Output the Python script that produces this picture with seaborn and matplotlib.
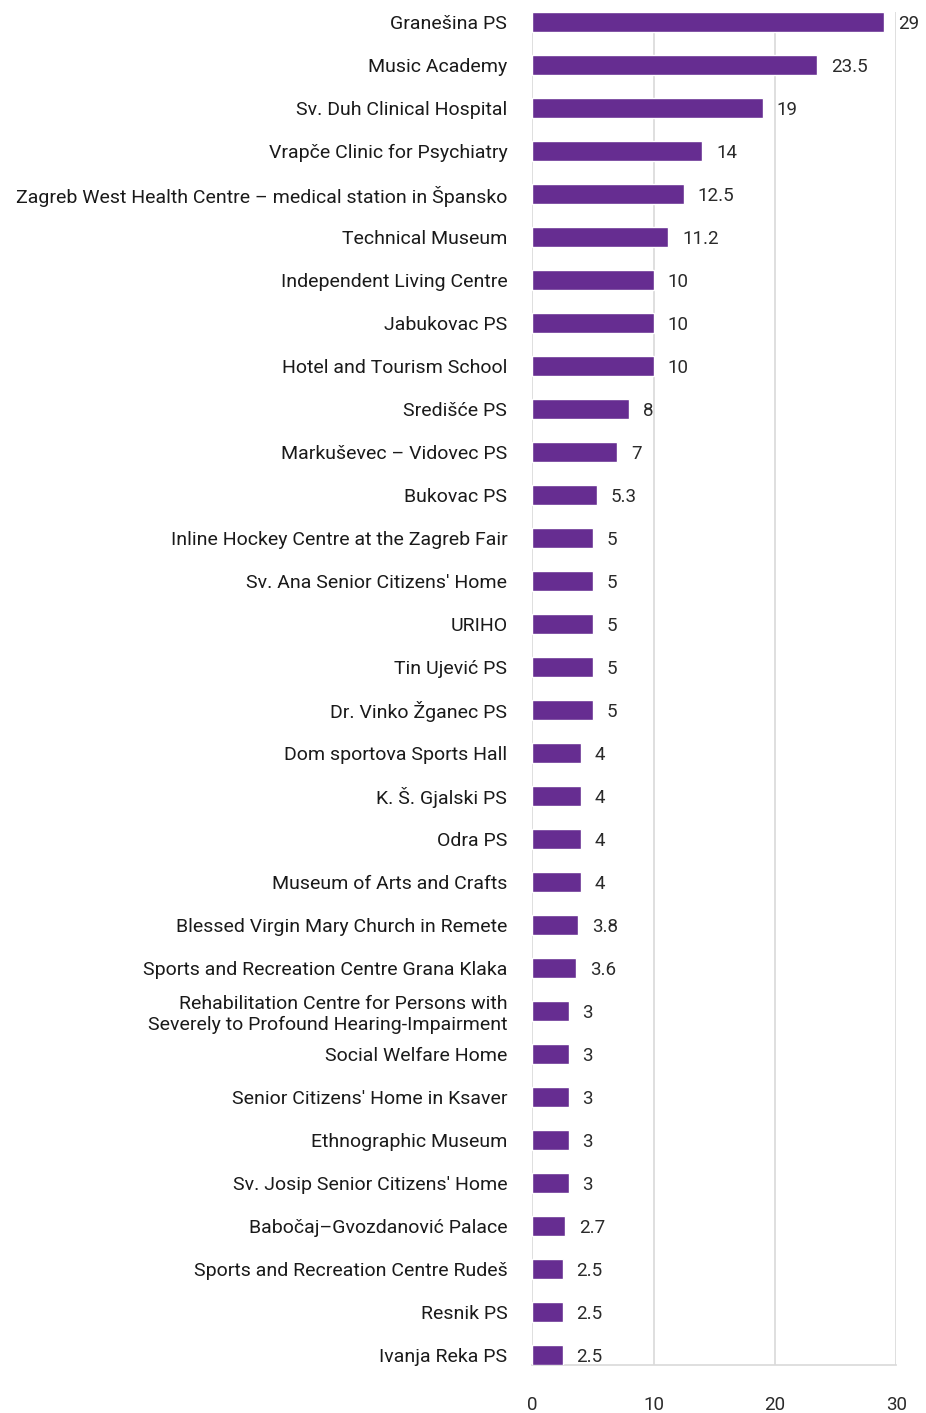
import pandas as pd
import seaborn as sns
import matplotlib.pyplot as plt

names = [
    "Granešina PS", "Music Academy", "Sv. Duh Clinical Hospital",
    "Vrapče Clinic for Psychiatry",
    "Zagreb West Health Centre – medical station in Špansko",
    "Technical Museum", "Independent Living Centre", "Jabukovac PS",
    "Hotel and Tourism School", "Središće PS", "Markuševec – Vidovec PS",
    "Bukovac PS", "Inline Hockey Centre at the Zagreb Fair",
    "Sv. Ana Senior Citizens' Home", "URIHO", "Tin Ujević PS",
    "Dr. Vinko Žganec PS", "Dom sportova Sports Hall", "K. Š. Gjalski PS",
    "Odra PS", "Museum of Arts and Crafts",
    "Blessed Virgin Mary Church in Remete",
    "Sports and Recreation Centre Grana Klaka",
    "Rehabilitation Centre for Persons with\nSeverely to Profound Hearing-Impairment",
    "Social Welfare Home", "Senior Citizens' Home in Ksaver",
    "Ethnographic Museum", "Sv. Josip Senior Citizens' Home",
    "Babočaj–Gvozdanović Palace", "Sports and Recreation Centre Rudeš",
    "Resnik PS", "Ivanja Reka PS",
]
values = [29, 23.5, 19, 14, 12.5, 11.2, 10, 10, 10, 8, 7, 5.3, 5, 5, 5, 5, 5,
          4, 4, 4, 4, 3.8, 3.6, 3, 3, 3, 3, 3, 2.7, 2.5, 2.5, 2.5]
value_labels = ["29", "23.5", "19", "14", "12.5", "11.2", "10", "10", "10", "8",
                "7", "5.3", "5", "5", "5", "5", "5", "4", "4", "4", "4", "3.8",
                "3.6", "3", "3", "3", "3", "3", "2.7", "2.5", "2.5", "2.5"]
x_ticks = [0, 10, 20, 30]

df = pd.DataFrame({"name": names, "value": values})

sns.set_style("white")
plt.rcParams['font.family'] = ['Roboto', 'DejaVu Sans']

fig = plt.figure(figsize=(9.26, 14.13), dpi=100)
ax = fig.add_axes([0.5748, 0.034, 0.3931, 0.9575])

sns.barplot(data=df, x="value", y="name", color="#662D91", width=0.47,
            saturation=1, ax=ax, zorder=3)

for i, (v, lab) in enumerate(zip(values, value_labels)):
    ax.annotate(lab, (v, i), xytext=(10, 0), textcoords="offset points",
                va="center_baseline", ha="left", fontsize=13.5,
                color="#2a2a2a")

ax.set_xlim(0, 30)
ax.set_ylim(len(names) - 1 + 0.24, -0.24)
ax.set_xticks(x_ticks)
ax.set_xticklabels([str(t) for t in x_ticks], fontsize=13.5, color="#2a2a2a")
ax.tick_params(axis="x", length=0, pad=22)
ax.tick_params(axis="y", length=0, pad=18)
for t in ax.get_yticklabels():
    t.set_fontsize(14)
    t.set_color("#1a1a1a")
    t.set_multialignment("right")
ax.set_xlabel("")
ax.set_ylabel("")
ax.xaxis.grid(True, color="#d9d9d9", linewidth=1.2, zorder=0)
ax.yaxis.grid(False)
for s in ["top", "right", "left"]:
    ax.spines[s].set_visible(False)
ax.spines["bottom"].set_color("#d9d9d9")
ax.spines["bottom"].set_linewidth(1.2)

fig.savefig("out.png", dpi=100)
